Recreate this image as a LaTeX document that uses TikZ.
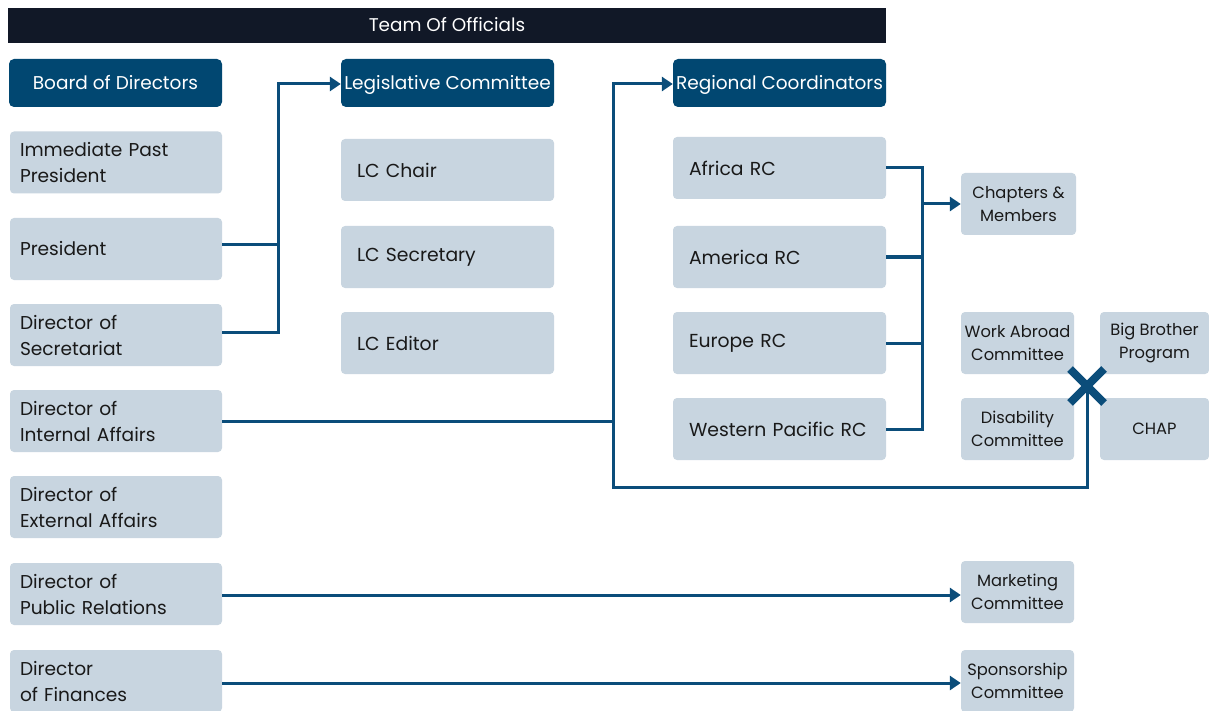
\documentclass[tikz,border=0pt]{standalone}
\usepackage{fontspec}
\setmainfont{Poppins}
\usetikzlibrary{arrows.meta,shapes.misc}
\definecolor{navy}{RGB}{17,24,39}
\definecolor{hdr}{RGB}{1,71,113}
\definecolor{gfill}{RGB}{200,213,224}
\definecolor{ln}{RGB}{11,77,122}
\definecolor{txt}{RGB}{25,25,25}
\begin{document}
\begin{tikzpicture}[x=1pt,y=-1pt,
  hdrbox/.style={fill=hdr, rounded corners=5pt, text=white, minimum width=213pt, minimum height=48pt, inner sep=0pt, text height=15pt, text depth=2pt, font=\fontsize{18.5}{22}\selectfont},
  leftbox/.style={fill=gfill, rounded corners=4pt, minimum height=62pt, text width=192pt, inner xsep=10pt, inner ysep=0pt, align=left, text=txt, font=\fontsize{18.6}{26}\selectfont},
  midbox/.style={fill=gfill, rounded corners=4pt, minimum height=62pt, text width=181pt, inner xsep=16pt, inner ysep=0pt, align=left, text=txt, font=\fontsize{18.8}{26}\selectfont},
  smallbox/.style={fill=gfill, rounded corners=4pt, minimum height=62pt, inner sep=0pt, align=center, text=txt, font=\fontsize{16.3}{23}\selectfont},
  conn/.style={draw=ln, line width=3pt},
  arr/.style={conn, -{Triangle[length=11pt,width=14pt]}},
  xmark/.style={draw=ln, cross out, line width=8pt, minimum size=26pt, inner sep=0pt}
]
\useasboundingbox (0,0) rectangle (1209,711);
\fill[white] (0,0) rectangle (1209,711);

% title bar
\node[fill=navy, minimum width=878pt, minimum height=35pt, inner sep=0pt, text=white, text height=15pt, text depth=2pt, font=\fontsize{18.4}{22}\selectfont] (title) at (447,25.5) {Team Of Officials};

% headers
\node[hdrbox] (bod) at (115.5,83) {Board of Directors};
\node[hdrbox] (lc) at (447.5,83) {Legislative Committee};
\node[hdrbox] (rc) at (779.5,83) {Regional Coordinators};

% left column
\node[leftbox] (ipp) at (116,162.5) {Immediate Past\\President};
\node[leftbox] (pres) at (116,249) {President};
\node[leftbox] (sec) at (116,335) {Director of\\Secretariat};
\node[leftbox] (ia) at (116,421) {Director of\\Internal Affairs};
\node[leftbox] (ea) at (116,507) {Director of\\External Affairs};
\node[leftbox] (pr) at (116,594) {Director of\\Public Relations};
\node[leftbox] (fin) at (116,681) {Director\\of Finances};

% legislative column
\node[midbox] (chair) at (447.5,170) {LC Chair};
\node[midbox] (lcsec) at (447.5,257) {LC Secretary};
\node[midbox] (edit) at (447.5,343) {LC Editor};

% regional column
\node[midbox] (afr) at (779.5,168) {Africa RC};
\node[midbox] (am) at (779.5,257) {America RC};
\node[midbox] (eu) at (779.5,343) {Europe RC};
\node[midbox] (wp) at (779.5,429) {Western Pacific RC};

% right small boxes
\node[smallbox, minimum width=115pt] (chm) at (1018.5,204) {Chapters \&\\Members};
\node[smallbox, minimum width=113pt] (wac) at (1017.5,343) {Work Abroad\\Committee};
\node[smallbox, minimum width=113pt] (dis) at (1017.5,429) {Disability\\Committee};
\node[smallbox, minimum width=109pt] (bbp) at (1154.5,343) {Big Brother\\Program};
\node[smallbox, minimum width=109pt] (chap) at (1154.5,429) {CHAP};
\node[smallbox, minimum width=113pt] (mkt) at (1017.5,592) {Marketing\\Committee};
\node[smallbox, minimum width=113pt] (spo) at (1017.5,681) {Sponsorship\\Committee};

% bus coordinates
\coordinate (bus1) at (278,0);
\coordinate (bus2) at (613,0);
\coordinate (bus3) at (922,0);
\coordinate (bot) at (613,487);
\coordinate (xc) at (1087,386);

% president / secretariat -> legislative committee
\draw[conn] ([yshift=4pt]pres.east) -- ([yshift=4pt]pres.east -| bus1);
\draw[arr] ([yshift=3pt]sec.east) -| ([yshift=-1pt]bus1 |- lc.west) -- ([yshift=-1pt]lc.west);

% internal affairs -> regional coordinators and cross
\draw[arr] (ia.east) -| ([yshift=-1pt]bus2 |- rc.west) -- ([yshift=-1pt]rc.west);
\draw[conn] (ia.east -| bot) -- (bot) -| (xc);
\node[xmark] (xm) at (xc) {};

% regional coordinators -> chapters
\draw[conn] (afr.east) -| (bus3 |- wp.east) -- (wp.east);
\draw[conn] (am.east) -- (am.east -| bus3);
\draw[conn] (eu.east) -- (eu.east -| bus3);
\draw[arr] (bus3 |- chm.west) -- (chm.west);

% public relations, finances
\draw[arr] ([yshift=-1pt]pr.east) -- ([yshift=-1pt]pr.east -| mkt.west);
\draw[arr] ([yshift=-2pt]fin.east) -- ([yshift=-2pt]fin.east -| spo.west);
\end{tikzpicture}
\end{document}
